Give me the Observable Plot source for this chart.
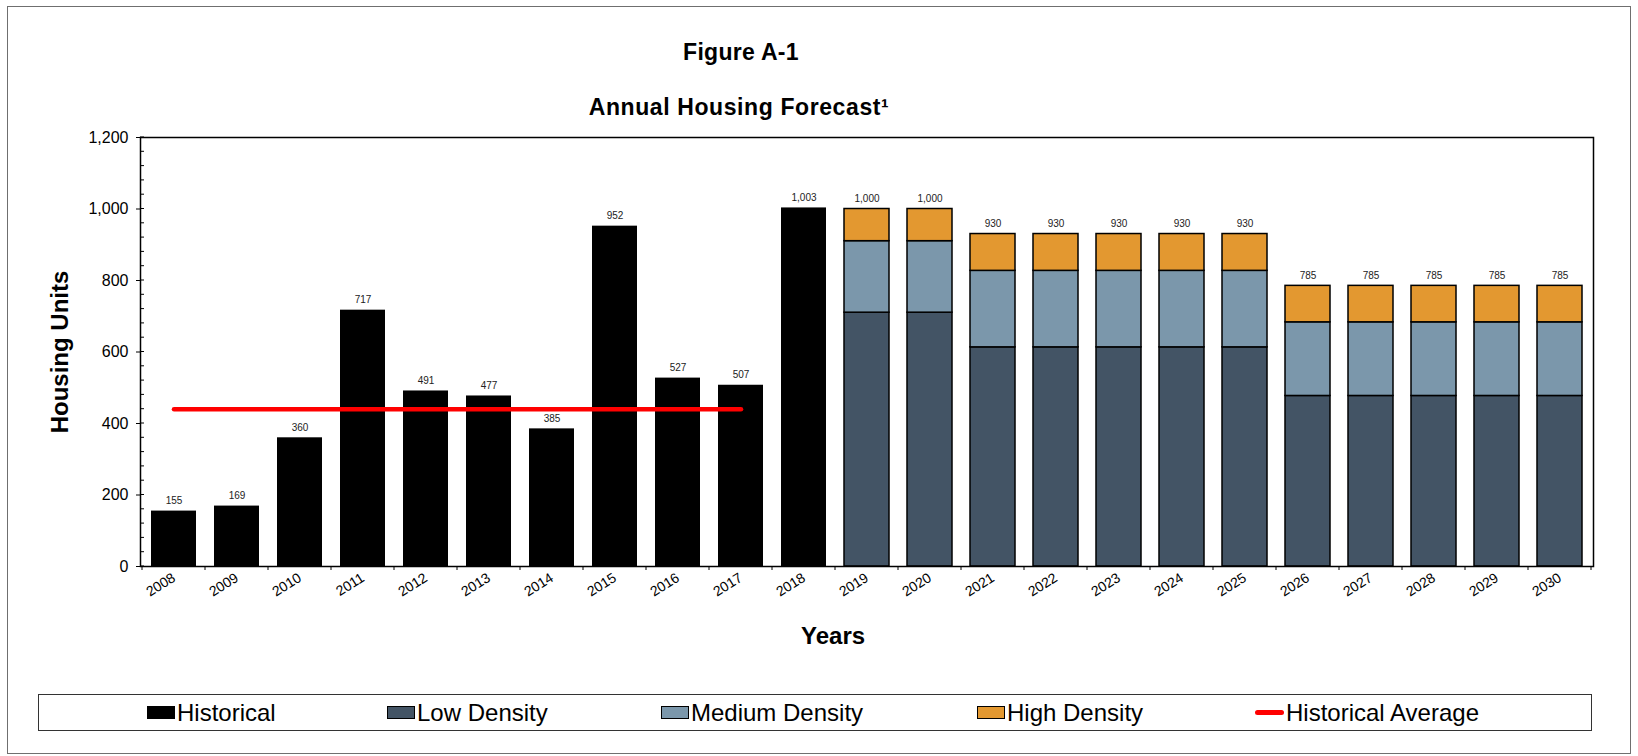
<!DOCTYPE html>
<html>
<head>
<meta charset="utf-8">
<script src="https://cdn.jsdelivr.net/npm/d3@7"></script>
<script src="https://cdn.jsdelivr.net/npm/@observablehq/plot@0.6"></script>
<style>
  html, body { margin: 0; padding: 0; background: #fff; }
  #page { position: relative; width: 1638px; height: 756px; font-family: Arial, "Liberation Sans", sans-serif; color: #000; overflow: hidden; }
  #outline { position: absolute; left: 7px; top: 6px; width: 1622px; height: 746px; border: 1.5px solid #6f6f6f; }
  .title { position: absolute; width: 400px; text-align: center; font-weight: bold; font-size: 23px; line-height: 26px; white-space: nowrap; }
  .axis-title { position: absolute; font-weight: bold; font-size: 24px; white-space: nowrap; }
  #chart { position: absolute; left: 0; top: 0; }
  #legend { position: absolute; left: 38px; top: 694px; width: 1552px; height: 35px; border: 1px solid #333; }
  .item { position: absolute; top: 0; height: 35px; display: flex; align-items: center; font-size: 24px; white-space: nowrap; }
  .swatch { width: 26px; height: 11px; border: 1px solid #000; margin-right: 2px; }
  .line-swatch { width: 29px; height: 5px; border-radius: 3px; background: #ff0000; margin-right: 2px; }
</style>
</head>
<body>
<div id="page">
  <div id="outline"></div>
  <div class="title" style="left: 541px; top: 39px; letter-spacing: 0.3px;">Figure A-1</div>
  <div class="title" style="left: 539px; top: 94px; letter-spacing: 0.6px;">Annual Housing Forecast¹</div>
  <div id="chart"></div>
  <div class="axis-title" style="left: 801px; top: 622px;">Years</div>
  <div class="axis-title" style="left: 60px; top: 352px; transform: translate(-50%, -50%) rotate(-90deg);">Housing Units</div>
  <div id="legend"></div>
</div>
<script>
// Years shown on the x axis
const years = d3.range(2008, 2031).map(String);

// Recorded completions, 2008–2018
const historicalYears = ["2008", "2009", "2010", "2011", "2012", "2013", "2014", "2015", "2016", "2017", "2018"];
const historicalUnits = [155, 169, 360, 717, 491, 477, 385, 952, 527, 507, 1003];

// Forecast by density, 2019–2030
const forecastYears = ["2019", "2020", "2021", "2022", "2023", "2024", "2025", "2026", "2027", "2028", "2029", "2030"];
const lowDensity    = [710, 710, 613, 613, 613, 613, 613, 477, 477, 477, 477, 477];
const mediumDensity = [200, 200, 214, 214, 214, 214, 214, 206, 206, 206, 206, 206];
const highDensity   = [90, 90, 103, 103, 103, 103, 103, 102, 102, 102, 102, 102];

// Historical average line over 2008–2017
const averageYears = ["2008", "2017"];
const historicalAverage = 440;

// Series names and colours
const densities = ["Low Density", "Medium Density", "High Density"];
const densityColors = ["#435465", "#7b97ab", "#e39830"];

// Axis ticks
const majorTicks = d3.range(0, 1201, 200);
const minorTicks = d3.range(0, 1201, 40);

// Tables for the marks
const historicalRows = historicalYears.map((year, i) => ({year, value: historicalUnits[i]}));
const forecastRows = forecastYears.flatMap((year, i) => [
  {year, density: densities[0], value: lowDensity[i]},
  {year, density: densities[1], value: mediumDensity[i]},
  {year, density: densities[2], value: highDensity[i]}
]);
const totals = [
  ...historicalRows,
  ...forecastYears.map((year, i) => ({year, value: lowDensity[i] + mediumDensity[i] + highDensity[i]}))
];
const averageRows = averageYears.map(year => ({year, value: historicalAverage}));

const thousands = d3.format(",");

// Small inward ticks on the y axis and ticks between the year bands
function frameTicks(index, scales, values, dims) {
  const g = d3.create("svg:g").attr("stroke", "#000").attr("stroke-width", 1);
  const left = dims.marginLeft;
  const bottom = dims.height - dims.marginBottom;
  for (const v of minorTicks) {
    const y = scales.y(v);
    g.append("line").attr("x1", left).attr("x2", left + 4).attr("y1", y).attr("y2", y);
  }
  const x = scales.x;
  const step = x.step();
  const gap = (step - x.bandwidth()) / 2;
  const edges = years.map(yr => x(yr) - gap);
  edges.push(x(years[years.length - 1]) - gap + step);
  for (const e of edges) {
    g.append("line").attr("x1", e).attr("x2", e).attr("y1", bottom).attr("y2", bottom + 4);
  }
  return g.node();
}

const chart = Plot.plot({
  width: 1638,
  height: 756,
  marginLeft: 140,
  marginRight: 45,
  marginTop: 137,
  marginBottom: 190,
  style: {background: "transparent", fontFamily: "Arial, 'Liberation Sans', sans-serif", color: "#000", overflow: "visible"},
  x: {domain: years, paddingInner: 0.28, paddingOuter: 0.14, label: null},
  y: {domain: [0, 1200], label: null},
  color: {domain: densities, range: densityColors},
  marks: [
    Plot.barY(historicalRows, {x: "year", y: "value", fill: "#000"}),
    Plot.barY(forecastRows, {x: "year", y: "value", fill: "density", order: densities, stroke: "#000", strokeWidth: 1.5}),
    Plot.lineY(averageRows, {x: "year", y: "value", stroke: "#ff0000", strokeWidth: 4.5}),
    Plot.text(totals, {x: "year", y: "value", text: d => thousands(d.value), dy: -10, fontSize: 10, fill: "#222"}),
    Plot.frame({stroke: "#000", strokeWidth: 1.5}),
    Plot.axisY(majorTicks, {tickSize: 4, tickPadding: 8, tickFormat: thousands, fontSize: 16, label: null}),
    Plot.axisX({tickSize: 0, tickPadding: 10, tickRotate: -32, fontSize: 14, label: null}),
    frameTicks
  ]
});
document.getElementById("chart").appendChild(chart);

// Legend entries below the chart
const legendItems = [
  {label: "Historical", kind: "box", color: "#000", left: 108},
  {label: densities[0], kind: "box", color: densityColors[0], left: 348},
  {label: densities[1], kind: "box", color: densityColors[1], left: 622},
  {label: densities[2], kind: "box", color: densityColors[2], left: 938},
  {label: "Historical Average", kind: "line", color: "#ff0000", left: 1216}
];
const legend = d3.select("#legend");
for (const item of legendItems) {
  const el = legend.append("div").attr("class", "item").style("left", item.left + "px");
  if (item.kind === "box") el.append("div").attr("class", "swatch").style("background", item.color);
  else el.append("div").attr("class", "line-swatch").style("background", item.color);
  el.append("span").text(item.label);
}
</script>
</body>
</html>
